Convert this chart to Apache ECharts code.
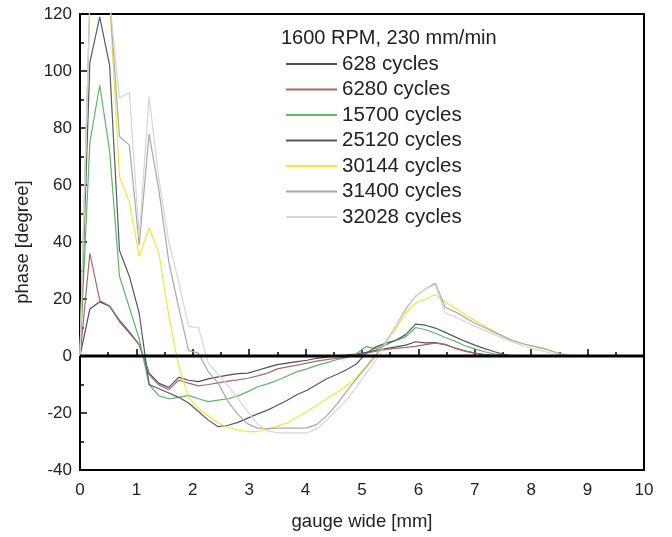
<!DOCTYPE html>
<html><head><meta charset="utf-8">
<script src="https://cdn.jsdelivr.net/npm/echarts@6/dist/echarts.min.js"></script>
<style>html,body{margin:0;padding:0;background:#fff}#c{width:672px;height:537px}</style>
</head><body><div id="c"></div>
<script>
// sample positions along gauge width [mm]
const xPos = [
  0, 0.175, 0.35, 0.525, 0.7, 0.875, 1.05, 1.225, 1.4, 1.575,
  1.75, 1.925, 2.1, 2.275, 2.45, 2.625, 2.8, 2.975, 3.15, 3.325,
  3.5, 3.675, 3.85, 4.025, 4.2, 4.375, 4.55, 4.725, 4.9, 5.075,
  5.25, 5.425, 5.6, 5.775, 5.95, 6.125, 6.3, 6.475, 6.65, 6.825,
  7.0, 7.175, 7.35, 7.525, 7.7, 7.875, 8.05, 8.225, 8.4, 8.575,
  8.75, 8.925, 9.1, 9.275, 9.45, 9.625, 9.8, 9.975
];
const phase628 = [
  0, 16.5, 19, 17.5, 12.5, 8.5, 4, -6, -9.6, -11,
  -7.5, -8.5, -9, -8, -7.3, -6.7, -6.2, -6, -5, -4,
  -3, -2.5, -2, -1.5, -0.8, -0.4, 0, 0.3, 0.7, 1.3,
  2, 2.6, 3.2, 3.8, 5, 4.6, 4.7, 4, 2.8, 1.8,
  1, 0.5, 0.1, 0, 0, 0, 0, 0, 0, 0,
  0, 0, 0, 0, 0, 0, 0, 0
];
const phase6280 = [
  0, 36, 19.5, 17.5, 12, 8, 4, -6.5, -10.2, -11.8,
  -8.5, -9.5, -10.5, -10, -9.4, -8.8, -8.4, -7.8, -7, -6,
  -4.5, -3.8, -3.2, -2.5, -1.8, -1.3, -0.8, -0.4, 0.3, 1,
  1.7, 2.3, 2.7, 3, 3.4, 4, 4.5, 4.1, 2.7, 1.7,
  1, 0.4, 0, 0, 0, 0, 0, 0, 0, 0,
  0, 0, 0, 0, 0, 0, 0, 0
];
const phase15700 = [
  0, 75, 95, 72, 28, 17, 6, -10, -14, -15,
  -14.5, -13.8, -15, -16, -15.5, -15, -14, -12.5, -10.8, -9.8,
  -8.5, -7, -5.5, -4.5, -3.3, -2.3, -1.3, -0.6, 0.8, 3.3,
  2.5, 3.9, 5.5, 6.7, 10, 9.2, 8, 6.5, 5.2, 3.6,
  2.5, 1.5, 0.7, 0.2, 0, 0, 0, 0, 0, 0,
  0, 0, 0, 0, 0, 0, 0, 0
];
const phase25120 = [
  0, 103, 119, 102, 37, 28, 15, -10, -11.5, -13,
  -14.5, -16.5, -19.5, -22.5, -24.8, -24.3, -23.3, -21.8, -20.3, -19,
  -17.3, -15.5, -13.5, -12, -10, -8, -6.5, -4.8, -2.8, 1,
  3.2, 4.5, 5.5, 7.5, 11.2, 10.8, 9.8, 8.3, 6.7, 5.2,
  3.8, 2.6, 1.5, 0.5, 0, 0, 0, 0, 0, 0,
  0, 0, 0, 0, 0, 0, 0, 0
];
const phase30144 = [
  0, 125, 125, 125, 63, 54, 35, 45, 36, 14,
  -3.5, -14.5, -18.5, -21, -23.5, -25, -26, -26.5, -26.5, -25.8,
  -24.5, -23.5, -21.5, -19.5, -17.3, -15, -12.8, -10.5, -7.5, -3.5,
  0.5, 5, 9.5, 15, 18.5, 20, 21.5, 19, 16.8, 14.5,
  12.5, 10.5, 8.5, 6.7, 5.2, 4.2, 3.4, 2.6, 1.5, 0.5,
  0, 0, 0, 0, 0, 0, 0, 0
];
const phase31400 = [
  0, 125, 125, 125, 77, 74, 39, 78, 58, 33,
  17, 2, 1, -5.5, -9.5, -16, -20.5, -23.8, -25.3, -25.5,
  -25.3, -25.3, -25.3, -25.2, -24, -21, -17, -12.5, -8, -4,
  0.5, 5, 10.5, 16.5, 21, 23.5, 25.5, 17, 15.5, 13.5,
  11.5, 10, 8.3, 6.7, 5.2, 4.2, 3.4, 2.6, 1.5, 0.5,
  0, 0, 0, 0, 0, 0, 0, 0
];
const phase32028 = [
  0, 125, 125, 125, 90.5, 92.5, 42, 91, 62, 40,
  26, 10.3, 10, -2.5, -6.5, -10.5, -15, -19.5, -24, -26.3,
  -27, -27, -27, -27, -25.5, -22.5, -19, -15.5, -11, -6,
  -1.5, 4.5, 10.5, 16, 21, 23.5, 25, 15, 13.8, 12,
  10.5, 9, 7.5, 6, 4.7, 3.5, 2.5, 1.6, 0.8, 0.2,
  0, 0, 0, 0, 0, 0, 0, 0
];
const seriesNames = ['628 cycles', '6280 cycles', '15700 cycles', '25120 cycles', '30144 cycles', '31400 cycles', '32028 cycles'];
const seriesData = [phase628, phase6280, phase15700, phase25120, phase30144, phase31400, phase32028];
const seriesColors = ['#505050', '#a86a70', '#5cb860', '#555868', '#eaea3a', '#a8a8a8', '#d6d6d6'];
const legendTitle = '1600 RPM, 230 mm/min';
const zeroLine = [[0, 0], [10, 0]];

const FONT = '"Liberation Sans", Arial, sans-serif';
function pairs(ys) { return ys.map((y, i) => [xPos[i], y]); }

const chart = echarts.init(document.getElementById('c'), null, { renderer: 'canvas' });
const series = seriesNames.map((n, k) => ({
  name: n, type: 'line', data: pairs(seriesData[k]), symbol: 'none', showSymbol: false,
  lineStyle: { width: 1.2, color: seriesColors[k] }, itemStyle: { color: seriesColors[k] },
  clip: true, z: 2 + k
}));
series.push({
  name: 'zero', type: 'line', data: zeroLine, symbol: 'none', silent: true,
  lineStyle: { width: 3, color: '#000' }, z: 20
});

const axisCommon = {
  axisLine: { lineStyle: { color: '#000', width: 2 } },
  axisTick: { inside: true, length: 7, lineStyle: { color: '#000', width: 1.5 } },
  minorTick: { show: true, splitNumber: 2, length: 4, lineStyle: { color: '#000', width: 1.5 } },
  splitLine: { show: false },
  nameLocation: 'middle',
  nameTextStyle: { fontSize: 18.5, color: '#222', fontFamily: FONT }
};

chart.setOption({
  animation: false,
  backgroundColor: '#fff',
  grid: { left: 80, right: 28, top: 14, bottom: 67, show: true, borderColor: '#000', borderWidth: 2 },
  xAxis: Object.assign({}, axisCommon, {
    type: 'value', min: 0, max: 10, interval: 1, name: 'gauge wide [mm]', nameGap: 42,
    axisLabel: { fontSize: 17, color: '#222', fontFamily: FONT, margin: 12 }
  }),
  yAxis: Object.assign({}, axisCommon, {
    type: 'value', min: -40, max: 120, interval: 20, name: 'phase [degree]', nameGap: 48,
    axisLabel: { fontSize: 17, color: '#222', fontFamily: FONT, margin: 8 }
  }),
  legend: {
    data: seriesNames, orient: 'vertical', left: 281, top: 48,
    itemWidth: 51, itemHeight: 2, icon: 'rect', itemGap: 3.5,
    textStyle: { fontSize: 20.5, color: '#222', fontFamily: FONT, lineHeight: 22 }
  },
  graphic: [{
    type: 'text', left: 281, top: 28,
    style: { text: legendTitle, fontSize: 20, fill: '#222', fontFamily: FONT }
  }],
  series: series
});
</script>
</body></html>
